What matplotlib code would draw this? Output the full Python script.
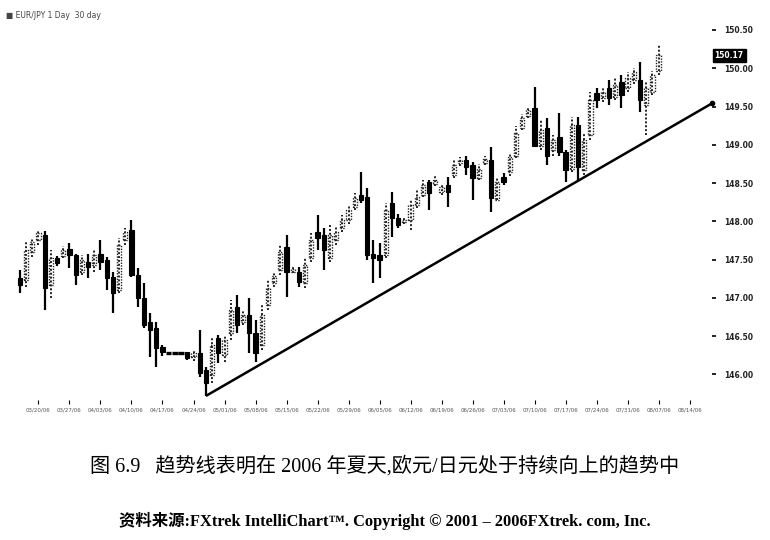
import matplotlib
matplotlib.use("Agg")
import matplotlib.pyplot as plt
from matplotlib.patches import Rectangle

# EUR/JPY DAILY CANDLES

opens = [147.26, 147.23, 147.60, 147.75, 147.82, 147.17, 147.52, 147.55, 147.64, 147.56,
         147.34, 147.47, 147.43, 147.58, 147.49, 147.27, 147.10, 147.75, 147.89, 147.30,
         147.00, 146.68, 146.61, 146.36, 146.28, 146.28, 146.28, 146.29, 146.23, 146.28,
         146.06, 145.99, 146.48, 146.25, 146.54, 146.88, 146.68, 146.78, 146.54, 146.38,
         146.91, 147.19, 147.36, 147.66, 147.34, 147.34, 147.19, 147.52, 147.86, 147.82,
         147.52, 147.75, 147.91, 148.02, 148.19, 148.34, 148.32, 147.58, 147.56, 147.56,
         148.24, 148.05, 147.99, 148.02, 148.21, 148.34, 148.51, 148.49, 148.38, 148.47,
         148.60, 148.76, 148.80, 148.73, 148.56, 148.76, 148.80, 148.28, 148.58, 148.64,
         148.86, 149.22, 149.37, 149.48, 148.99, 149.22, 148.93, 149.10, 148.90, 148.69,
         149.26, 148.67, 149.13, 149.67, 149.61, 149.74, 149.63, 149.82, 149.74, 149.84,
         149.84, 149.52, 149.69, 149.97]
highs = [147.36, 147.73, 147.78, 147.89, 147.87, 147.62, 147.55, 147.68, 147.72, 147.58,
         147.56, 147.58, 147.62, 147.75, 147.53, 147.34, 147.78, 147.91, 148.02, 147.39,
         147.19, 146.80, 146.68, 146.38, 146.28, 146.28, 146.28, 146.30, 146.32, 146.58,
         146.10, 146.48, 146.51, 146.51, 146.97, 147.04, 146.84, 147.00, 146.71, 146.91,
         147.23, 147.34, 147.69, 147.82, 147.40, 147.40, 147.52, 147.85, 148.08, 147.91,
         147.95, 147.94, 148.08, 148.20, 148.37, 148.64, 148.43, 147.75, 147.72, 148.24,
         148.38, 148.09, 148.04, 148.28, 148.41, 148.54, 148.54, 148.59, 148.49, 148.58,
         148.80, 148.84, 148.86, 148.77, 148.75, 148.86, 148.97, 148.56, 148.63, 148.89,
         149.24, 149.40, 149.50, 149.75, 149.33, 149.35, 149.13, 149.41, 148.93, 149.36,
         149.36, 149.15, 149.69, 149.74, 149.74, 149.84, 149.87, 149.91, 149.95, 150.00,
         150.08, 149.82, 149.97, 150.30]
lows = [147.06, 147.14, 147.53, 147.69, 146.84, 147.00, 147.42, 147.52, 147.39, 147.17,
        147.30, 147.26, 147.34, 147.36, 147.10, 146.80, 147.06, 147.69, 147.27, 146.88,
        146.61, 146.23, 146.10, 146.24, 146.28, 146.28, 146.28, 146.19, 146.18, 145.97,
        145.72, 145.89, 146.15, 146.16, 146.45, 146.54, 146.64, 146.28, 146.16, 146.32,
        146.84, 147.14, 147.30, 147.01, 147.33, 147.14, 147.13, 147.47, 147.62, 147.36,
        147.47, 147.69, 147.86, 147.96, 148.15, 148.24, 147.49, 147.19, 147.26, 147.52,
        147.79, 147.91, 147.96, 147.89, 148.17, 148.32, 148.15, 148.46, 148.34, 148.19,
        148.56, 148.72, 148.60, 148.28, 148.54, 148.73, 148.12, 148.28, 148.47, 148.59,
        148.83, 149.19, 149.35, 148.97, 148.93, 148.73, 148.86, 148.86, 148.51, 148.64,
        148.54, 148.60, 149.06, 149.48, 149.56, 149.52, 149.58, 149.48, 149.69, 149.79,
        149.43, 149.13, 149.65, 149.91]
closes = [147.17, 147.62, 147.73, 147.85, 147.13, 147.52, 147.45, 147.62, 147.56, 147.30,
          147.49, 147.40, 147.56, 147.47, 147.26, 147.06, 147.69, 147.86, 147.30, 147.00,
          146.64, 146.58, 146.34, 146.29, 146.28, 146.28, 146.28, 146.21, 146.28, 146.02,
          145.89, 146.38, 146.28, 146.45, 146.84, 146.64, 146.78, 146.54, 146.28, 146.78,
          147.13, 147.28, 147.60, 147.34, 147.38, 147.21, 147.43, 147.75, 147.78, 147.62,
          147.82, 147.86, 148.02, 148.15, 148.30, 148.28, 147.56, 147.52, 147.49, 148.15,
          148.04, 147.95, 148.02, 148.21, 148.32, 148.47, 148.37, 148.54, 148.45, 148.38,
          148.73, 148.80, 148.71, 148.56, 148.69, 148.81, 148.30, 148.51, 148.51, 148.84,
          149.16, 149.35, 149.45, 148.99, 149.19, 148.86, 149.06, 148.90, 148.67, 149.26,
          148.71, 149.06, 149.58, 149.58, 149.69, 149.61, 149.78, 149.65, 149.87, 149.95,
          149.58, 149.74, 149.91, 150.17]

# trend line: from the summer low to the right edge
trend_x = [30, 111.6]
trend_y = [145.72, 149.54]

price_ticks = [146.00, 146.50, 147.00, 147.50, 148.00, 148.50, 149.00, 149.50, 150.00, 150.50]
date_ticks = list(range(3, 109, 5))
date_labels = ["03/20/06", "03/27/06", "04/03/06", "04/10/06", "04/17/06", "04/24/06",
               "05/01/06", "05/08/06", "05/15/06", "05/22/06", "05/29/06", "06/05/06",
               "06/12/06", "06/19/06", "06/26/06", "07/03/06", "07/10/06", "07/17/06",
               "07/24/06", "07/31/06", "08/07/06", "08/14/06"]
last_price = closes[-1]

title_text = "■ EUR/JPY 1 Day  30 day"
caption = "图 6.9   趋势线表明在 2006 年夏天,欧元/日元处于持续向上的趋势中"
source = "资料来源:FXtrek IntelliChart™. Copyright © 2001 – 2006FXtrek. com, Inc."

cjk = ["Liberation Serif", "Noto Sans CJK SC", "DejaVu Sans"]

fig = plt.figure(figsize=(7.7, 5.4), dpi=100)
ax = fig.add_axes([0.0065, 0.259, 0.918, 0.704])

# CANDLES
w = 0.7
for i in range(len(opens)):
    o, h, l, c = opens[i], highs[i], lows[i], closes[i]
    if abs(c - o) < 0.005:
        ax.vlines(i, l, h, color="black", lw=1.0)
        ax.hlines(c, i - 0.45, i + 0.45, color="black", lw=2.4)
    elif c < o:
        ax.vlines(i, l, h, color="black", lw=1.6)
        ax.add_patch(Rectangle((i - w / 2, c), w, o - c, facecolor="black",
                               edgecolor="black", lw=0.8))
    else:
        ax.vlines(i, l, h, color="#222222", lw=1.4, linestyles=(0, (1, 1)))
        ax.add_patch(Rectangle((i - w / 2, o), w, c - o, facecolor="white",
                               edgecolor="#222222", lw=1.0, linestyle=(0, (1, 1))))

# TREND LINE
ax.plot(trend_x, trend_y, color="black", lw=1.8, solid_capstyle="butt")
ax.plot(trend_x[1], trend_y[1], "o", color="black", ms=3, clip_on=False)

ax.set_xlim(-2.4, 111.6)
ax.set_ylim(145.665, 150.63)

for s in ax.spines.values():
    s.set_visible(False)

ax.yaxis.tick_right()
ax.set_yticks(price_ticks)
ax.set_yticklabels([f"{p:.2f}" for p in price_ticks], fontsize=5.5,
                   fontweight="bold", color="#222222")
ax.tick_params(axis="y", direction="out", length=3, width=1.2, pad=6)

ax.set_xticks(date_ticks)
ax.set_xticklabels(date_labels, fontsize=4, color="#555555")
ax.tick_params(axis="x", direction="out", length=3, width=0.8, pad=2)

# last price box
ax.annotate(f"{last_price:.2f}", xy=(1.0, last_price), xycoords=("axes fraction", "data"),
            xytext=(2, 0), textcoords="offset points", va="center", ha="left",
            fontsize=5.5, fontweight="bold", color="white",
            bbox=dict(boxstyle="square,pad=0.25", fc="black", ec="black"))

fig.text(0.008, 0.972, title_text, fontsize=5.5, color="#444444", va="center")

# CAPTION
fig.text(0.5, 0.137, caption, family=cjk, fontsize=14.5, ha="center", va="center")
fig.text(0.5, 0.035, source, family=cjk, fontsize=11.8, fontweight="bold",
         ha="center", va="center")

plt.savefig("out.png", dpi=100)
